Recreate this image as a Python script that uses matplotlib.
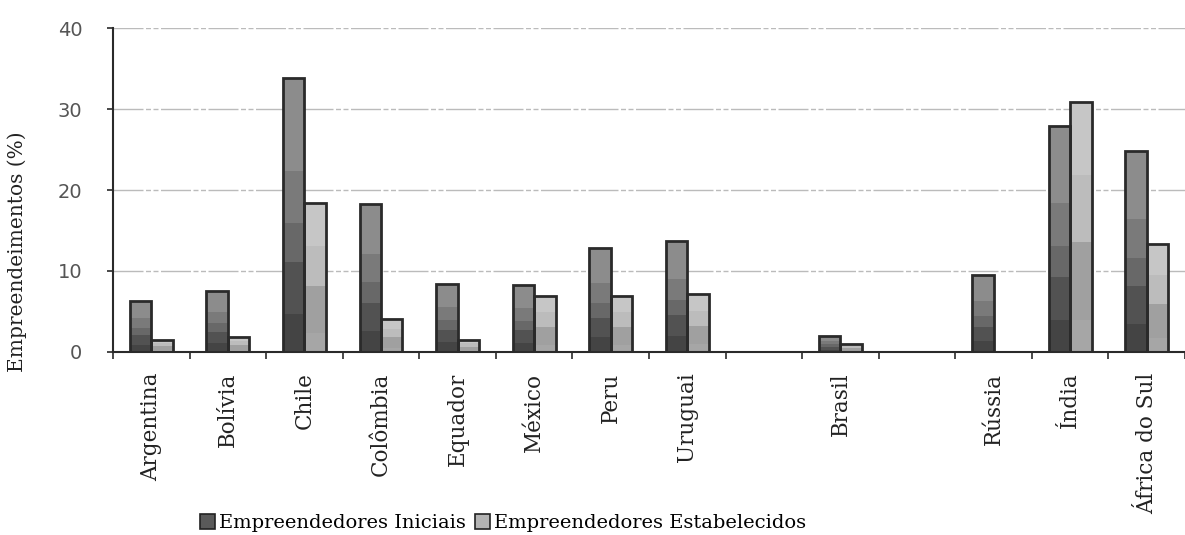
import numpy as np
import matplotlib
matplotlib.use("Agg")
import matplotlib.pyplot as plt
from matplotlib.patches import Patch
from matplotlib.colors import to_rgb

# ---- data ----
categories = ["Argentina", "Bolívia", "Chile", "Colômbia", "Equador", "México",
              "Peru", "Uruguai", "", "Brasil", "", "Rússia", "Índia", "África do Sul"]
iniciais = [6.3, 7.5, 33.8, 18.3, 8.4, 8.2, 12.8, 13.7, None, 1.9, None, 9.5, 27.9, 24.8]
estabelecidos = [1.5, 1.8, 18.4, 4.0, 1.4, 6.9, 6.9, 7.1, None, 0.9, None, None, 30.9, 13.3]
series_names = ["Empreendedores Iniciais", "Empreendedores Estabelecidos"]
yticks = [0, 10, 20, 30, 40]
ylabel = "Empreendeimentos (%)"

# band styles (fraction of bar height, colour)
bands_ini = ([0, 0.14, 0.33, 0.47, 0.66, 1.0],
             ["#444444", "#525252", "#686868", "#7a7a7a", "#8c8c8c"])
bands_est = ([0, 0.13, 0.44, 0.71, 1.0],
             ["#a6a6a6", "#a0a0a0", "#bcbcbc", "#c6c6c6"])

fig = plt.figure(figsize=(11.85, 5.35), dpi=100)
ax = fig.add_axes([0.0954, 0.3426, 0.9046, 0.6045])

x = np.arange(len(categories))
w = 0.28

def tofloat(v):
    return np.array([np.nan if a is None else a for a in v], dtype=float)

def band_img(bands, n=200):
    edges, cols = bands
    arr = np.zeros((n, 1, 3))
    for i in range(n):
        f = (i + 0.5) / n
        for k in range(len(cols)):
            if edges[k] <= f < edges[k + 1] or (k == len(cols) - 1 and f >= edges[k]):
                arr[i, 0] = to_rgb(cols[k])
                break
    return arr

img_ini = band_img(bands_ini)
img_est = band_img(bands_est)

for vals, off, img in [(tofloat(iniciais), -w / 2, img_ini),
                       (tofloat(estabelecidos), w / 2, img_est)]:
    bars = ax.bar(x + off, vals, width=w, facecolor="none",
                  edgecolor="#2a2a2a", linewidth=2.0, zorder=3)
    for p in bars:
        h = p.get_height()
        if not np.isfinite(h) or h <= 0:
            continue
        x0 = p.get_x()
        im = ax.imshow(img, extent=[x0, x0 + p.get_width(), 0, h],
                       origin="lower", aspect="auto", interpolation="nearest",
                       zorder=2)
        im.set_clip_path(p)

ax.set_xlim(-0.5, 13.37)
ax.set_ylim(0, 40)

# grid
for yv in yticks[1:]:
    ax.axhline(yv, color="#bbbbbb", lw=1.0,
               ls=(0, (21.6, 1.8, 3.6, 1.8, 3.6, 1.8)), zorder=1)

for s in ["top", "right"]:
    ax.spines[s].set_visible(False)
for s in ["left", "bottom"]:
    ax.spines[s].set_color("#2a2a2a")
    ax.spines[s].set_linewidth(1.5)
ax.spines["bottom"].set_zorder(4)

ax.set_yticks(yticks)
ax.tick_params(axis="y", length=4, width=1.2, color="#2a2a2a",
               labelsize=14, labelcolor="#555555", pad=18)

ax.set_xticks(x)
ax.set_xticklabels(categories, rotation=90, family="DejaVu Serif",
                   fontsize=15.5, color="#222222")
ax.tick_params(axis="x", which="major", length=0, pad=15)
ax.set_xticks(np.arange(-0.5, len(categories), 1.0), minor=True)
ax.tick_params(axis="x", which="minor", length=5, width=1.2, color="#2a2a2a")

ax.set_ylabel(ylabel, family="DejaVu Serif", fontsize=14.5, color="#222222")
ax.yaxis.set_label_coords(-0.080, 0.31)

handles = [Patch(facecolor="#5a5a5a", edgecolor="#222222", linewidth=1.2),
           Patch(facecolor="#b4b4b4", edgecolor="#222222", linewidth=1.2)]
fig.legend(handles, series_names, loc="center", bbox_to_anchor=(0.4245, 0.022),
           ncol=2, frameon=False, handlelength=0.8, handleheight=0.8,
           handletextpad=0.2, columnspacing=0.45, borderpad=0.1,
           prop={"family": "DejaVu Serif", "size": 14})

fig.savefig("out.png", dpi=100)
